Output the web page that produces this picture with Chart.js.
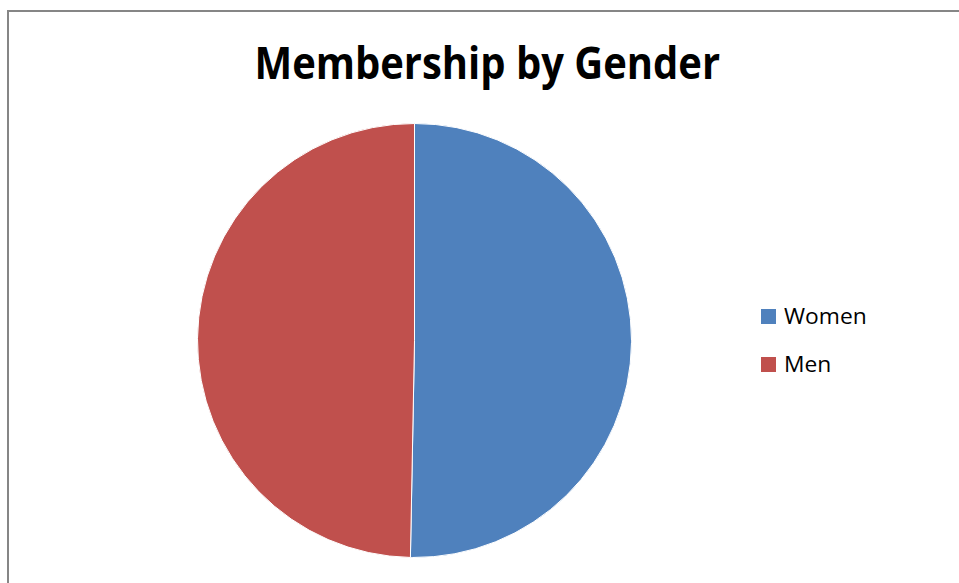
<!DOCTYPE html>
<html>
<head>
<meta charset="utf-8">
<script src="https://cdn.jsdelivr.net/npm/chart.js@4"></script>
<style>
    html, body { margin: 0; padding: 0; background: #fff; }
    body { width: 959px; height: 583px; position: relative; overflow: hidden; font-family: "Open Sans", sans-serif; }
    #frame { position: absolute; left: 7px; top: 10px; width: 1000px; height: 700px; border: 2px solid #868686; box-sizing: border-box; }
    #title { position: absolute; left: 0; top: 32px; width: 975px; text-align: center; white-space: nowrap; }
    #title span { display: inline-block; font-weight: bold; font-size: 45px; line-height: 60px; color: #000; transform-origin: center; }
    #pie-wrap { position: absolute; left: 197px; top: 123px; width: 435px; height: 435px; }
    #legend { position: absolute; left: 761px; top: 300px; }
    .item { position: absolute; left: 0; white-space: nowrap; }
    .box { position: absolute; left: 0; width: 15px; height: 15px; }
    .label { position: absolute; left: 23px; font-size: 22px; line-height: 30px; color: #000; transform-origin: left center; }
</style>
</head>
<body>
<div id="frame"></div>
<div id="title"><span id="title-text"></span></div>
<div id="pie-wrap"><canvas id="pie"></canvas></div>
<div id="legend"></div>
<script>
    const chartTitle = 'Membership by Gender';
    const categories = ['Women', 'Men'];
    const shares = [50.3, 49.7];
    const colors = ['#4F81BD', '#C0504D'];

    // titulek - zúžit na šířku jako v originále (Calibri)
    const titleEl = document.getElementById('title-text');
    titleEl.textContent = chartTitle;
    const titleScale = 466 / titleEl.offsetWidth;
    titleEl.style.transform = `scaleX(${titleScale})`;

    // legenda
    const legendEl = document.getElementById('legend');
    categories.forEach((name, i) => {
        const item = document.createElement('div');
        item.className = 'item';
        item.style.top = (i * 48) + 'px';
        item.innerHTML = `<div class="box" style="top:9px;background:${colors[i]}"></div><div class="label">${name}</div>`;
        legendEl.appendChild(item);
        const label = item.querySelector('.label');
        if (i === 0) {
            const s = 83 / label.offsetWidth;
            legendEl.dataset.scale = s;
        }
        label.style.transform = `scaleX(${legendEl.dataset.scale})`;
    });

    new Chart(document.getElementById('pie'), {
        type: 'pie',
        data: {
            labels: categories,
            datasets: [{
                data: shares,
                backgroundColor: colors,
                borderColor: '#ffffff',
                borderWidth: 1
            }]
        },
        options: {
            responsive: true,
            maintainAspectRatio: false,
            animation: false,
            layout: { padding: 0 },
            plugins: {
                legend: { display: false },
                title: { display: false },
                tooltip: { enabled: false }
            }
        }
    });
</script>
</body>
</html>
